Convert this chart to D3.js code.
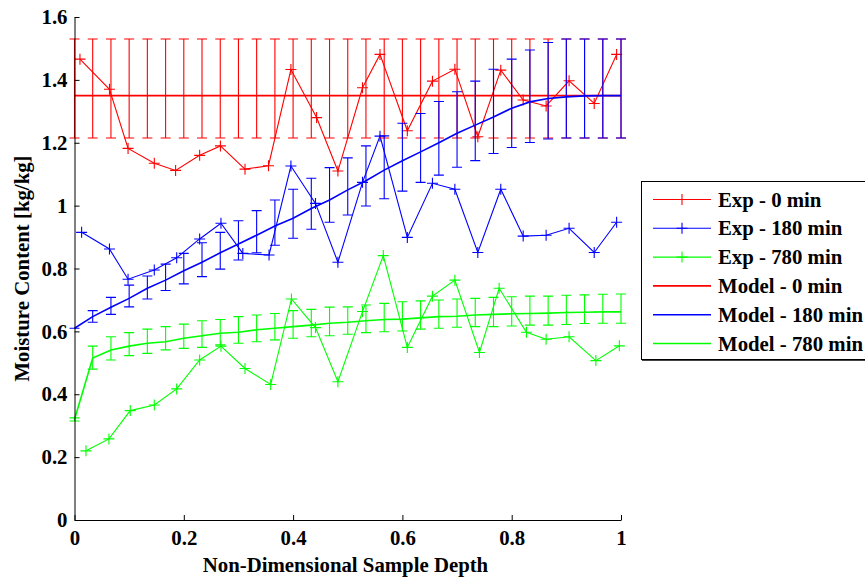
<!DOCTYPE html>
<html>
 <head>
  <meta charset="utf-8" />
  <title>Moisture content vs depth</title>
  <style>
   body, html {
    margin: 0;
    padding: 0;
    background: white;
    overflow: hidden;
   }
  </style>
  <script src="https://cdnjs.cloudflare.com/ajax/libs/d3/7.9.0/d3.min.js"></script>
 </head>
 <body>
  <svg width="865" height="577"></svg>
  <script>
   const depthExp0 = [0.010, 0.064, 0.098, 0.146, 0.185, 0.229, 0.267, 0.312, 0.355, 0.396, 0.443, 0.482, 0.527, 0.559, 0.609, 0.655, 0.696, 0.738, 0.780, 0.821, 0.863, 0.905, 0.951, 0.992];
   const exp0 = [1.466, 1.370, 1.182, 1.135, 1.112, 1.160, 1.190, 1.116, 1.127, 1.433, 1.280, 1.110, 1.375, 1.481, 1.238, 1.396, 1.434, 1.219, 1.431, 1.336, 1.317, 1.397, 1.325, 1.481];

   const depthExp180 = [0.013, 0.064, 0.098, 0.146, 0.187, 0.229, 0.268, 0.308, 0.356, 0.396, 0.441, 0.482, 0.527, 0.559, 0.609, 0.655, 0.696, 0.738, 0.780, 0.821, 0.863, 0.905, 0.951, 0.992];
   const exp180 = [0.915, 0.862, 0.766, 0.795, 0.834, 0.894, 0.944, 0.848, 0.843, 1.126, 1.007, 0.820, 1.074, 1.221, 0.899, 1.071, 1.052, 0.851, 1.052, 0.903, 0.906, 0.928, 0.851, 0.947];

   const depthExp780 = [0.021, 0.063, 0.102, 0.146, 0.187, 0.229, 0.268, 0.312, 0.359, 0.397, 0.441, 0.482, 0.527, 0.565, 0.609, 0.655, 0.696, 0.741, 0.777, 0.827, 0.863, 0.905, 0.954, 0.997];
   const exp780 = [0.220, 0.258, 0.348, 0.366, 0.417, 0.509, 0.553, 0.482, 0.431, 0.703, 0.612, 0.440, 0.663, 0.841, 0.549, 0.712, 0.763, 0.533, 0.737, 0.597, 0.575, 0.583, 0.507, 0.554];

   // model curves, with the lower and upper ends of their error bars
   const depthModel = [0, 0.0333, 0.0667, 0.1, 0.1333, 0.1667, 0.2, 0.2333, 0.2667, 0.3, 0.3333, 0.3667, 0.4, 0.4333, 0.4667, 0.5, 0.5333, 0.5667, 0.6, 0.6333, 0.6667, 0.7, 0.7333, 0.7667, 0.8, 0.8333, 0.8667, 0.9, 0.9333, 0.9667, 1];

   const model0 = [1.35, 1.35, 1.35, 1.35, 1.35, 1.35, 1.35, 1.35, 1.35, 1.35, 1.35, 1.35, 1.35, 1.35, 1.35, 1.35, 1.35, 1.35, 1.35, 1.35, 1.35, 1.35, 1.35, 1.35, 1.35, 1.35, 1.35, 1.35, 1.35, 1.35, 1.35];
   const low0 = [1.215, 1.215, 1.215, 1.215, 1.215, 1.215, 1.215, 1.215, 1.215, 1.215, 1.215, 1.215, 1.215, 1.215, 1.215, 1.215, 1.215, 1.215, 1.215, 1.215, 1.215, 1.215, 1.215, 1.215, 1.215, 1.215, 1.215, 1.215, 1.215, 1.215, 1.215];
   const high0 = [1.53, 1.53, 1.53, 1.53, 1.53, 1.53, 1.53, 1.53, 1.53, 1.53, 1.53, 1.53, 1.53, 1.53, 1.53, 1.53, 1.53, 1.53, 1.53, 1.53, 1.53, 1.53, 1.53, 1.53, 1.53, 1.53, 1.53, 1.53, 1.53, 1.53, 1.53];

   const model180 = [0.610, 0.647, 0.677, 0.705, 0.737, 0.763, 0.793, 0.820, 0.850, 0.878, 0.906, 0.935, 0.960, 0.991, 1.018, 1.050, 1.079, 1.113, 1.143, 1.171, 1.200, 1.230, 1.256, 1.282, 1.310, 1.330, 1.341, 1.346, 1.349, 1.350, 1.350];
   const low180 = [0.610, 0.629, 0.654, 0.678, 0.703, 0.730, 0.751, 0.774, 0.798, 0.827, 0.850, 0.874, 0.896, 0.925, 0.947, 0.970, 0.999, 1.022, 1.046, 1.074, 1.097, 1.122, 1.143, 1.166, 1.185, 1.201, 1.212, 1.215, 1.215, 1.215, 1.215];
   const high180 = [0.610, 0.666, 0.708, 0.747, 0.776, 0.814, 0.848, 0.882, 0.915, 0.952, 0.984, 1.018, 1.052, 1.087, 1.121, 1.152, 1.190, 1.222, 1.262, 1.293, 1.331, 1.362, 1.396, 1.434, 1.466, 1.495, 1.519, 1.530, 1.530, 1.530, 1.530];

   const model780 = [0.320, 0.515, 0.541, 0.553, 0.562, 0.567, 0.578, 0.586, 0.594, 0.597, 0.605, 0.610, 0.615, 0.620, 0.626, 0.629, 0.634, 0.638, 0.639, 0.643, 0.647, 0.648, 0.652, 0.654, 0.656, 0.657, 0.658, 0.660, 0.661, 0.662, 0.662];
   const low780 = [0.315, 0.480, 0.509, 0.523, 0.530, 0.541, 0.546, 0.549, 0.557, 0.562, 0.567, 0.573, 0.578, 0.583, 0.586, 0.591, 0.596, 0.599, 0.601, 0.607, 0.610, 0.613, 0.615, 0.615, 0.617, 0.620, 0.620, 0.622, 0.625, 0.626, 0.626];
   const high780 = [0.325, 0.553, 0.583, 0.596, 0.607, 0.615, 0.623, 0.634, 0.638, 0.647, 0.652, 0.657, 0.666, 0.670, 0.677, 0.678, 0.684, 0.689, 0.694, 0.697, 0.700, 0.703, 0.705, 0.708, 0.710, 0.712, 0.712, 0.715, 0.716, 0.718, 0.719];

   const xTicks = [0, 0.2, 0.4, 0.6, 0.8, 1];
   const yTicks = [0, 0.2, 0.4, 0.6, 0.8, 1, 1.2, 1.4, 1.6];

   const legendLabels = ["Exp - 0 min", "Exp - 180 min", "Exp - 780 min", "Model - 0 min", "Model - 180 min", "Model - 780 min"];
   const colors = ["#ff0000", "#0000ff", "#00ff00"];

   const fontFamily = "'Liberation Serif', 'Times New Roman', Times, 'DejaVu Serif', serif";
   const fontSize = 20.8;

   const svg = d3.select("svg");
   const x = d3.scaleLinear().domain([0, 1]).range([74.5, 621]);
   const y = d3.scaleLinear().domain([0, 1.6]).range([520, 17]);
   const armSize = 5.5;
   const capSize = 5;

   const zip = (xs, ys) => xs.map((v, i) => [v, ys[i]]);
   const line = d3.line().x(d => x(d[0])).y(d => y(d[1]));

   function plusPath(px, py) {
    return `M${px - armSize},${py}H${px + armSize}M${px},${py - armSize}V${py + armSize}`;
   }

   const plot = svg.append("g");

   // experimental series: thin line with plus markers
   const expSeries = [
    { xs: depthExp0, ys: exp0, color: colors[0] },
    { xs: depthExp180, ys: exp180, color: colors[1] },
    { xs: depthExp780, ys: exp780, color: colors[2] }
   ];

   expSeries.forEach(s => {
    const pts = zip(s.xs, s.ys);
    plot.append("path")
     .attr("d", line(pts))
     .attr("fill", "none")
     .attr("stroke", s.color)
     .attr("stroke-width", 1.1);
    plot.append("g").selectAll("path")
     .data(pts)
     .enter().append("path")
     .attr("d", d => plusPath(x(d[0]), y(d[1])))
     .attr("stroke", s.color)
     .attr("stroke-width", 1.1)
     .attr("fill", "none");
   });

   // model series: thicker line with error bars
   const modelSeries = [
    { ys: model0, lo: low0, hi: high0, color: colors[0] },
    { ys: model180, lo: low180, hi: high180, color: colors[1] },
    { ys: model780, lo: low780, hi: high780, color: colors[2] }
   ];

   modelSeries.forEach(s => {
    const pts = depthModel.map((v, i) => ({ x: v, y: s.ys[i], lo: s.lo[i], hi: s.hi[i] }));
    plot.append("g").selectAll("path")
     .data(pts)
     .enter().append("path")
     .attr("d", d => {
      const px = x(d.x), lo = y(d.lo), hi = y(d.hi);
      return `M${px},${lo}V${hi}M${px - capSize},${hi}H${px + capSize}M${px - capSize},${lo}H${px + capSize}`;
     })
     .attr("stroke", s.color)
     .attr("stroke-width", 1.1)
     .attr("fill", "none");
    plot.append("path")
     .attr("d", line(pts.map(d => [d.x, d.y])))
     .attr("fill", "none")
     .attr("stroke", s.color)
     .attr("stroke-width", 1.6);
   });

   // axes
   const fmt = d => d3.format("~g")(d);
   const xAxis = svg.append("g")
    .attr("transform", "translate(0,520)")
    .call(d3.axisBottom(x).tickValues(xTicks).tickFormat(fmt).tickSizeInner(-5).tickSizeOuter(0).tickPadding(10));
   const yAxis = svg.append("g")
    .attr("transform", "translate(74.5,0)")
    .call(d3.axisLeft(y).tickValues(yTicks).tickFormat(fmt).tickSizeInner(-5).tickSizeOuter(0).tickPadding(7));

   [xAxis, yAxis].forEach(a => {
    a.attr("font-size", fontSize).attr("font-family", fontFamily).attr("font-weight", "bold");
    a.selectAll("text").attr("fill", "#000");
    a.selectAll("line, path").attr("stroke", "#000");
   });

   svg.append("text")
    .attr("x", 345.5)
    .attr("y", 571.5)
    .attr("text-anchor", "middle")
    .attr("font-family", fontFamily)
    .attr("font-weight", "bold")
    .attr("font-size", fontSize)
    .text("Non-Dimensional Sample Depth");

   svg.append("text")
    .attr("transform", "translate(29,268.5) rotate(-90)")
    .attr("text-anchor", "middle")
    .attr("font-family", fontFamily)
    .attr("font-weight", "bold")
    .attr("font-size", fontSize)
    .text("Moisture Content [kg/kg]");

   // legend
   const legend = svg.append("g");
   legend.append("rect")
    .attr("x", 641.5)
    .attr("y", 181.5)
    .attr("width", 240)
    .attr("height", 178)
    .attr("fill", "white")
    .attr("stroke", "#000");
   legend.append("line")
    .attr("x1", 642)
    .attr("x2", 865)
    .attr("y1", 360.5)
    .attr("y2", 360.5)
    .attr("stroke", "#444");

   const rowY = d3.scaleLinear().domain([0, 5]).range([199.5, 343.5]);
   legendLabels.forEach((label, i) => {
    const cy = rowY(i);
    const color = colors[i % 3];
    legend.append("line")
     .attr("x1", 653)
     .attr("x2", 711)
     .attr("y1", cy)
     .attr("y2", cy)
     .attr("stroke", color)
     .attr("stroke-width", i < 3 ? 1.1 : 1.6);
    if(i < 3)
     legend.append("path")
      .attr("d", plusPath(682, cy))
      .attr("stroke", color)
      .attr("stroke-width", 1.1);
    legend.append("text")
     .attr("x", 718)
     .attr("y", cy + 7)
     .attr("font-family", fontFamily)
     .attr("font-weight", "bold")
     .attr("font-size", fontSize)
     .text(label);
   });
  </script>
 </body>
</html>
